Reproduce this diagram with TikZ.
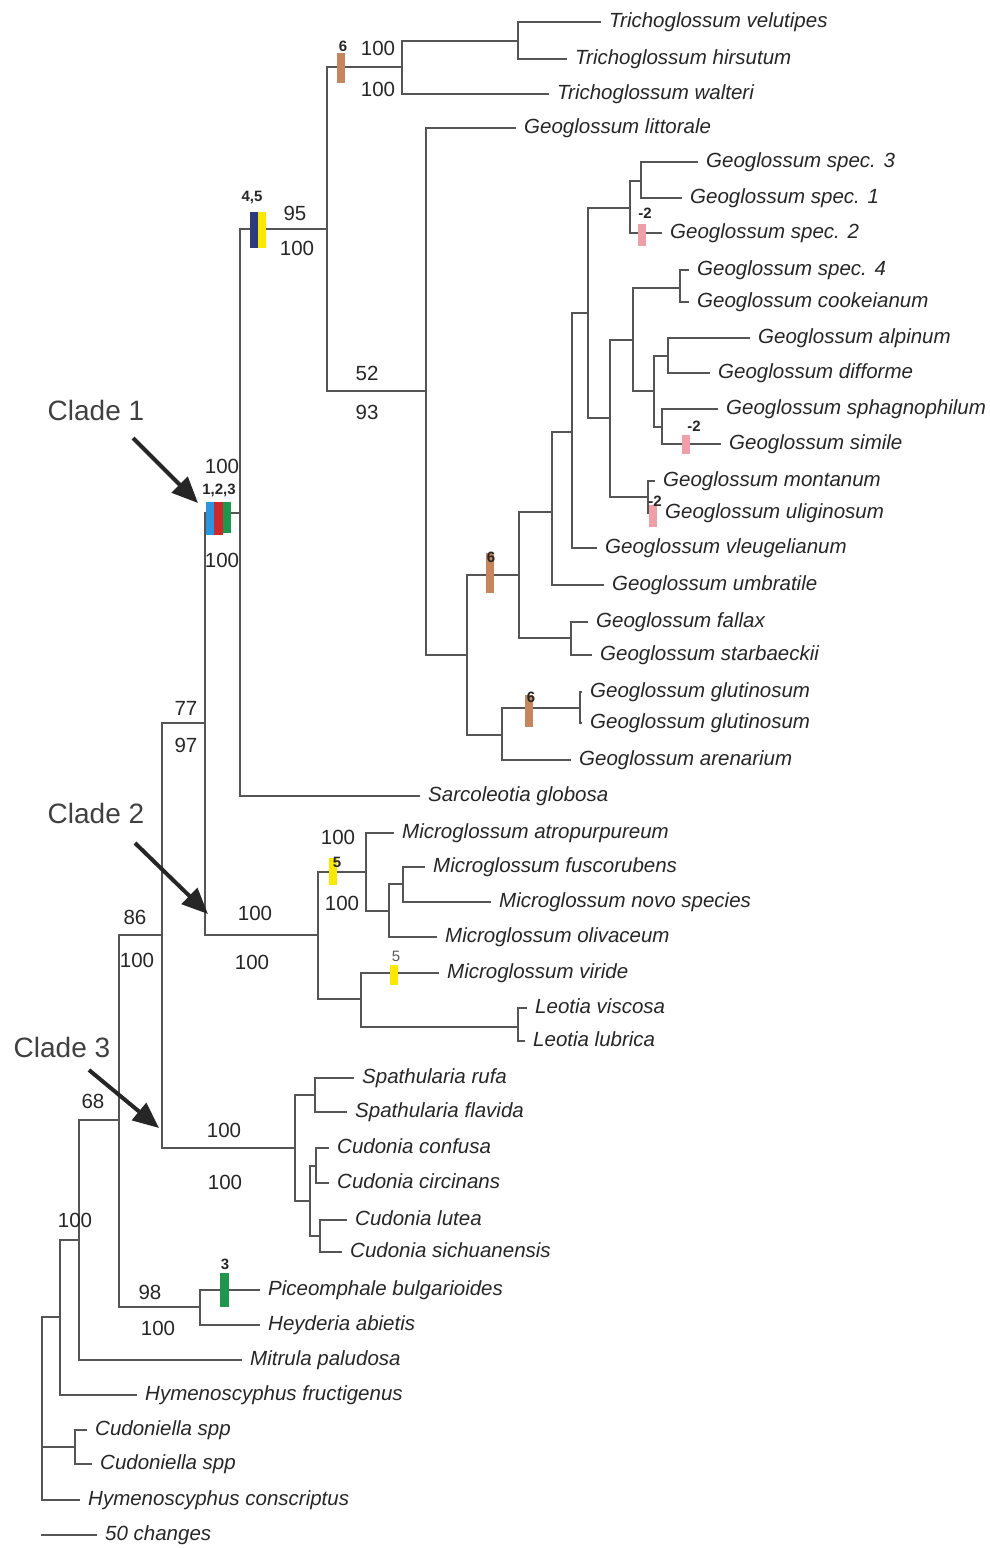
\documentclass[tikz,border=0pt]{standalone}
\usepackage{fontspec}
\setmainfont{Liberation Sans}
\usepackage{tikz}
\usetikzlibrary{arrows.meta}

\definecolor{branchgray}{RGB}{85,85,85}
\definecolor{synbrown}{RGB}{200,132,92}
\definecolor{synpink}{RGB}{240,158,168}
\definecolor{synyellow}{RGB}{250,232,0}
\definecolor{synnavy}{RGB}{45,58,125}
\definecolor{synblue}{RGB}{40,150,225}
\definecolor{synred}{RGB}{205,40,45}
\definecolor{syngreen}{RGB}{30,150,75}

\tikzset{
branch/.style={draw=branchgray, line width=1.6pt, line cap=rect}, % every edge of the tree
taxon/.style={anchor=west, inner xsep=9pt, inner ysep=0pt, text height=15pt, text depth=4.5pt, font=\fontsize{20.5}{24}\selectfont\itshape}, % tip names
support/.style={inner sep=0pt, font=\fontsize{20.5}{24}\selectfont}, % bootstrap values above / below a branch
synlab/.style={inner sep=0pt, font=\fontsize{15}{17}\selectfont\bfseries}, % character numbers on top of the bars
cladelab/.style={inner sep=0pt, font=\fontsize{28}{32}\selectfont, text=black!75}, % clade names
cladearrow/.style={-{Triangle[length=26pt, width=22pt]}, line width=4pt, draw=black!85}, % arrows to the clades
}

\begin{document}
\begin{tikzpicture}[
  x=1pt, y=-1pt,
  every node/.style={text=black!85}
]
  \useasboundingbox (0,0) rectangle (989,1548);

  % internal nodes
  \coordinate (root) at (42,1317);
  \coordinate (hym) at (60,1317);
  \coordinate (cudon) at (75,1447);
  \coordinate (nmitr) at (79,1240);
  \coordinate (nbig) at (119,1120);
  \coordinate (nheyd) at (200,1307);
  \coordinate (nclades) at (162,935);
  \coordinate (nsev) at (205,723);
  \coordinate (cladethree) at (295,1148);
  \coordinate (spath) at (315,1095);
  \coordinate (cudonia) at (310,1201);
  \coordinate (cudone) at (316,1166);
  \coordinate (cudtwo) at (320,1236);
  \coordinate (cladetwo) at (318,935);
  \coordinate (micro) at (366,872);
  \coordinate (microb) at (389,911);
  \coordinate (microc) at (403,884);
  \coordinate (leovir) at (361,999);
  \coordinate (leotia) at (518,1027);
  \coordinate (cladeone) at (240,513);
  \coordinate (nninety) at (327,229);
  \coordinate (tricho) at (402,67);
  \coordinate (trichob) at (518,41);
  \coordinate (geo) at (426,391);
  \coordinate (geoa) at (467,655);
  \coordinate (geob) at (519,575);
  \coordinate (geoc) at (552,512);
  \coordinate (geod) at (572,432);
  \coordinate (geoe) at (588,313);
  \coordinate (geof) at (630,208);
  \coordinate (geog) at (641,181);
  \coordinate (geoh) at (610,418);
  \coordinate (geoi) at (633,340);
  \coordinate (geoj) at (680,288);
  \coordinate (geok) at (654,391);
  \coordinate (geol) at (668,356);
  \coordinate (geom) at (662,427);
  \coordinate (geon) at (648,497);
  \coordinate (fallaxn) at (571,638);
  \coordinate (gluta) at (502,735);
  \coordinate (glutb) at (580,708);

  % tips
  \node[taxon] (velutipes) at (600,22) {Trichoglossum velutipes};
  \node[taxon] (hirsutum) at (566,59) {Trichoglossum hirsutum};
  \node[taxon] (walteri) at (548,94) {Trichoglossum walteri};
  \node[taxon] (littorale) at (515,128) {Geoglossum littorale};
  \node[taxon] (specthree) at (697,162) {Geoglossum spec. 3};
  \node[taxon] (specone) at (681,198) {Geoglossum spec. 1};
  \node[taxon] (spectwo) at (661,233) {Geoglossum spec. 2};
  \node[taxon] (specfour) at (688,270) {Geoglossum spec. 4};
  \node[taxon] (cookeianum) at (688,302) {Geoglossum cookeianum};
  \node[taxon] (alpinum) at (749,338) {Geoglossum alpinum};
  \node[taxon] (difforme) at (709,373) {Geoglossum difforme};
  \node[taxon] (sphagnophilum) at (717,409) {Geoglossum sphagnophilum};
  \node[taxon] (simile) at (720,444) {Geoglossum simile};
  \node[taxon] (montanum) at (654,481) {Geoglossum montanum};
  \node[taxon] (uliginosum) at (656,513) {Geoglossum uliginosum};
  \node[taxon] (vleugelianum) at (596,548) {Geoglossum vleugelianum};
  \node[taxon] (umbratile) at (603,585) {Geoglossum umbratile};
  \node[taxon] (fallax) at (587,622) {Geoglossum fallax};
  \node[taxon] (starbaeckii) at (591,655) {Geoglossum starbaeckii};
  \node[taxon] (glutone) at (581,692) {Geoglossum glutinosum};
  \node[taxon] (gluttwo) at (581,723) {Geoglossum glutinosum};
  \node[taxon] (arenarium) at (570,760) {Geoglossum arenarium};
  \node[taxon] (sarcoleotia) at (419,796) {Sarcoleotia globosa};
  \node[taxon] (atropurpureum) at (393,833) {Microglossum atropurpureum};
  \node[taxon] (fuscorubens) at (424,867) {Microglossum fuscorubens};
  \node[taxon] (novo) at (490,902) {Microglossum novo species};
  \node[taxon] (olivaceum) at (436,937) {Microglossum olivaceum};
  \node[taxon] (viride) at (438,973) {Microglossum viride};
  \node[taxon] (viscosa) at (526,1008) {Leotia viscosa};
  \node[taxon] (lubrica) at (524,1041) {Leotia lubrica};
  \node[taxon] (rufa) at (353,1078) {Spathularia rufa};
  \node[taxon] (flavida) at (346,1112) {Spathularia flavida};
  \node[taxon] (confusa) at (328,1148) {Cudonia confusa};
  \node[taxon] (circinans) at (328,1183) {Cudonia circinans};
  \node[taxon] (lutea) at (346,1220) {Cudonia lutea};
  \node[taxon] (sichuanensis) at (341,1252) {Cudonia sichuanensis};
  \node[taxon] (piceomphale) at (259,1290) {Piceomphale bulgarioides};
  \node[taxon] (heyderia) at (259,1325) {Heyderia abietis};
  \node[taxon] (mitrula) at (241,1360) {Mitrula paludosa};
  \node[taxon] (fructigenus) at (136,1395) {Hymenoscyphus fructigenus};
  \node[taxon] (cudoniellaa) at (86,1430) {Cudoniella spp};
  \node[taxon] (cudoniellab) at (91,1464) {Cudoniella spp};
  \node[taxon] (conscriptus) at (79,1500) {Hymenoscyphus conscriptus};

  % branches
  \foreach \p/\c in {root/hym, root/cudon, root/conscriptus,
      hym/nmitr, hym/fructigenus, nmitr/nbig, nmitr/mitrula,
      nbig/nclades, nbig/nheyd, nheyd/piceomphale, nheyd/heyderia,
      nclades/nsev, nclades/cladethree, nsev/cladeone, nsev/cladetwo,
      cladethree/spath, cladethree/cudonia, spath/rufa, spath/flavida,
      cudonia/cudone, cudonia/cudtwo, cudone/confusa, cudone/circinans,
      cudtwo/lutea, cudtwo/sichuanensis,
      cladetwo/micro, cladetwo/leovir, micro/atropurpureum, micro/microb,
      microb/microc, microb/olivaceum, microc/fuscorubens, microc/novo,
      leovir/viride, leovir/leotia, leotia/viscosa, leotia/lubrica,
      cladeone/nninety, cladeone/sarcoleotia, nninety/tricho, nninety/geo,
      tricho/trichob, tricho/walteri, trichob/velutipes, trichob/hirsutum,
      geo/littorale, geo/geoa, geoa/geob, geoa/gluta,
      geob/geoc, geob/fallaxn, fallaxn/fallax, fallaxn/starbaeckii,
      geoc/geod, geoc/umbratile, geod/geoe, geod/vleugelianum,
      geoe/geof, geoe/geoh, geof/geog, geof/spectwo,
      geog/specthree, geog/specone, geoh/geoi, geoh/geon,
      geoi/geoj, geoi/geok, geoj/specfour, geoj/cookeianum,
      geok/geol, geok/geom, geol/alpinum, geol/difforme,
      geom/sphagnophilum, geom/simile, geon/montanum, geon/uliginosum,
      gluta/glutb, gluta/arenarium, glutb/glutone, glutb/gluttwo}
    \draw[branch] (\p) |- (\c);
  \draw[branch] (cudon) |- (cudoniellaa);
  \draw[branch] (cudon) |- (cudoniellab);

  % character changes
  \fill[synbrown] (337,53) rectangle (345,83);
  \node[synlab] at (343,46) {6};
  \fill[synnavy] (250,212) rectangle (258,248);
  \fill[synyellow] (258,212) rectangle (266,248);
  \node[synlab] at (252,197) {4,5};
  \fill[synblue] (206,502) rectangle (214,535);
  \fill[synred] (214,502) rectangle (223,535);
  \fill[syngreen] (223,502) rectangle (231,533);
  \node[synlab] at (219,490) {1,2,3};
  \fill[synpink] (638,224) rectangle (646,246);
  \node[synlab] at (645,213) {-2};
  \fill[synpink] (682,435) rectangle (690,454);
  \node[synlab] at (694,426) {-2};
  \fill[synpink] (649,505) rectangle (657,527);
  \node[synlab] at (655,501) {-2};
  \fill[synbrown] (486,553) rectangle (494,593);
  \node[synlab] at (491,557) {6};
  \fill[synbrown] (525,695) rectangle (533,727);
  \node[synlab] at (531,697) {6};
  \fill[synyellow] (329,858) rectangle (337,885);
  \node[synlab] at (337,862) {5};
  \fill[synyellow] (390,965) rectangle (398,985);
  \node[synlab, font=\fontsize{15}{17}\selectfont, text=black!65] at (396,956) {5};
  \fill[syngreen] (220,1273) rectangle (229,1307);
  \node[synlab] at (225,1264) {3};

  % bootstrap values
  \node[support] at (378,48) {100};
  \node[support] at (378,89) {100};
  \node[support] at (295,213) {95};
  \node[support] at (297,248) {100};
  \node[support] at (367,373) {52};
  \node[support] at (367,412) {93};
  \node[support] at (222,466) {100};
  \node[support] at (222,560) {100};
  \node[support] at (186,708) {77};
  \node[support] at (186,745) {97};
  \node[support] at (255,913) {100};
  \node[support] at (252,962) {100};
  \node[support] at (135,917) {86};
  \node[support] at (137,960) {100};
  \node[support] at (338,837) {100};
  \node[support] at (342,903) {100};
  \node[support] at (93,1101) {68};
  \node[support] at (224,1130) {100};
  \node[support] at (225,1182) {100};
  \node[support] at (75,1220) {100};
  \node[support] at (150,1292) {98};
  \node[support] at (158,1328) {100};

  % clades
  \node[cladelab] (cladeonelab) at (96,410) {Clade 1};
  \node[cladelab] (cladetwolab) at (96,813) {Clade 2};
  \node[cladelab] (cladethreelab) at (62,1047) {Clade 3};
  \coordinate (cladeonetail) at (133,438);
  \coordinate (cladeonehead) at (198,503);
  \coordinate (cladetwotail) at (135,843);
  \coordinate (cladetwohead) at (208,914);
  \coordinate (cladethreetail) at (89,1070);
  \coordinate (cladethreehead) at (159,1128);
  \draw[cladearrow] (cladeonetail) -- (cladeonehead);
  \draw[cladearrow] (cladetwotail) -- (cladetwohead);
  \draw[cladearrow] (cladethreetail) -- (cladethreehead);

  % scale
  \coordinate (scaleleft) at (42,1535);
  \node[taxon] (scaletext) at (96,1535) {50 changes};
  \draw[branch] (scaleleft) -- (scaletext);
\end{tikzpicture}
\end{document}
